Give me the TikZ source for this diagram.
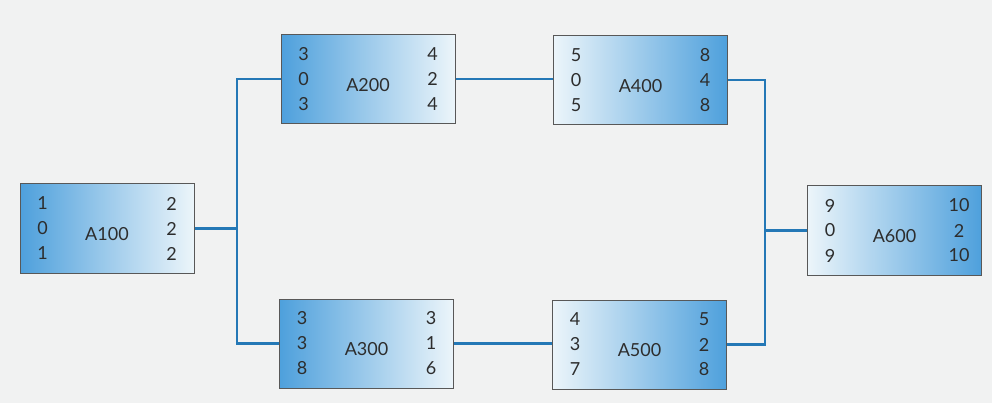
\documentclass[tikz,border=0pt]{standalone}
\usepackage{fontspec}
\setmainfont{Lato}
\definecolor{bgc}{RGB}{241,242,242}
\definecolor{bdark}{RGB}{78,160,220}
\definecolor{blight}{RGB}{236,245,250}
\definecolor{edgec}{RGB}{88,88,88}
\definecolor{linec}{RGB}{36,120,182}
\definecolor{txt}{RGB}{45,45,45}
\tikzset{
  actbox/.style={draw=edgec, line width=1pt, minimum width=174pt, minimum height=89pt, inner sep=0pt},
  darkleft/.style={left color=bdark, right color=blight},
  darkright/.style={left color=blight, right color=bdark},
  num/.style={text=txt, font=\fontsize{18}{21}\selectfont, inner sep=0pt},
  conn/.style={draw=linec, line width=2.4pt}
}
\newcommand{\actblk}[8]{%
  \node[num] at ([xshift=23pt,yshift=25pt]#1.west) {#3};
  \node[num] at ([xshift=23pt]#1.west) {#4};
  \node[num] at ([xshift=23pt,yshift=-25pt]#1.west) {#5};
  \node[num] at ([xshift=-23pt,yshift=25pt]#1.east) {#6};
  \node[num] at ([xshift=-23pt]#1.east) {#7};
  \node[num] at ([xshift=-23pt,yshift=-25pt]#1.east) {#8};
  \node[num] at ([yshift=-6pt]#1.center) {#2};
}
\begin{document}
\begin{tikzpicture}[x=1pt,y=-1pt]
\fill[bgc] (0,0) rectangle (992,403);
\useasboundingbox (0,0) rectangle (992,403);
\node[actbox,darkleft]  (A100) at (107,228.5) {};
\node[actbox,darkleft]  (A200) at (368,79) {};
\node[actbox,darkleft]  (A300) at (366.5,343.5) {};
\node[actbox,darkright] (A400) at (640.5,80) {};
\node[actbox,darkright] (A500) at (639.5,344.5) {};
\node[actbox,darkright] (A600) at (894.5,230.5) {};
\actblk{A100}{A100}{1}{0}{1}{2}{2}{2}
\actblk{A200}{A200}{3}{0}{3}{4}{2}{4}
\actblk{A300}{A300}{3}{3}{8}{3}{1}{6}
\actblk{A400}{A400}{5}{0}{5}{8}{4}{8}
\actblk{A500}{A500}{4}{3}{7}{5}{2}{8}
\actblk{A600}{A600}{9}{0}{9}{10}{2}{10}
\coordinate (L) at (237,228.5);
\coordinate (R) at (765,230.5);
\draw[conn] (A100.east) -- (L);
\draw[conn] (A200.west) -| (L) |- (A300.west);
\draw[conn] (A400.east) -| (R) |- (A500.east);
\draw[conn] (A600.west) -- (R);
\draw[conn] (A200.east) -- (A200.east -| A400.west);
\draw[conn] (A300.east) -- (A300.east -| A500.west);
\end{tikzpicture}
\end{document}
